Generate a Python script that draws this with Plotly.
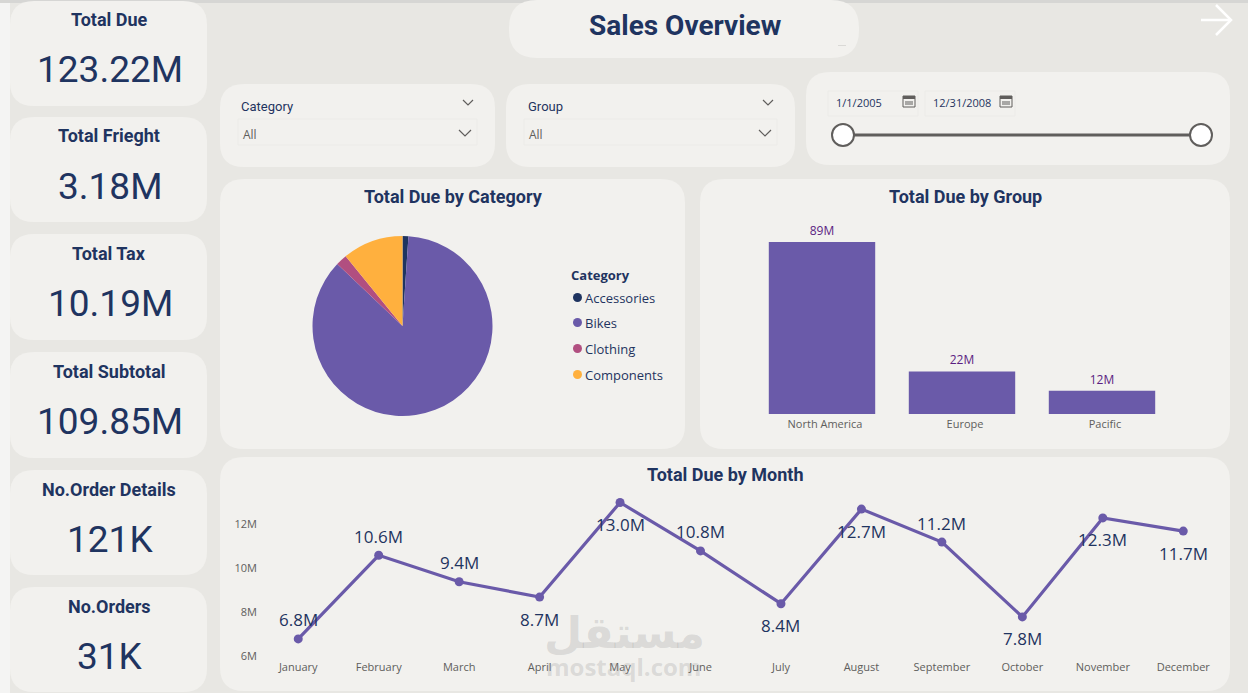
import plotly.graph_objects as go

# ---- data ----
kpi_names = ["Total Due", "Total Frieght", "Total Tax", "Total Subtotal", "No.Order Details", "No.Orders"]
kpi_values = ["123.22M", "3.18M", "10.19M", "109.85M", "121K", "31K"]

categories = ["Accessories", "Bikes", "Clothing", "Components"]
category_due = [1.3, 106.0, 2.5, 13.4]

groups = ["North America", "Europe", "Pacific"]
group_due = [89, 22, 12]

months = ["January", "February", "March", "April", "May", "June", "July",
          "August", "September", "October", "November", "December"]
month_due = [6.8, 10.6, 9.4, 8.7, 13.0, 10.8, 8.4, 12.7, 11.2, 7.8, 12.3, 11.7]
month_label_above = [True, True, True, False, False, True, False, False, True, False, False, False]

# ---- page geometry and palette ----
W, H = 1248, 693
PAGE = "#E8E7E3"
CARD = "#F2F1EE"
NAVY = "#1F3460"
PURPLE = "#6A5AA9"
PINK = "#B14F80"
ORANGE = "#FFB03E"
GREY = "#605E5C"
pie_colors = [NAVY, PURPLE, PINK, ORANGE]
HEAD = "Roboto"
BODY = "Open Sans"


def px(x):
    return x / W


def py(y):
    return 1 - y / H


def dom_x(a, b):
    return [px(a), px(b)]


def dom_y(top, bottom):
    return [py(bottom), py(top)]


def card(x0, y0, x1, y1, r=24, fill=CARD):
    p = (f"M{px(x0 + r)},{py(y0)} L{px(x1 - r)},{py(y0)} "
         f"Q{px(x1)},{py(y0)} {px(x1)},{py(y0 + r)} L{px(x1)},{py(y1 - r)} "
         f"Q{px(x1)},{py(y1)} {px(x1 - r)},{py(y1)} L{px(x0 + r)},{py(y1)} "
         f"Q{px(x0)},{py(y1)} {px(x0)},{py(y1 - r)} L{px(x0)},{py(y0 + r)} "
         f"Q{px(x0)},{py(y0)} {px(x0 + r)},{py(y0)} Z")
    return dict(type="path", xref="paper", yref="paper", path=p, fillcolor=fill,
                line=dict(width=0), layer="below")


def rect(x0, y0, x1, y1, fill="rgba(0,0,0,0)", line=None, width=1):
    return dict(type="rect", xref="paper", yref="paper", x0=px(x0), x1=px(x1), y0=py(y1), y1=py(y0),
                fillcolor=fill, line=dict(color=line or fill, width=width if line else 0), layer="below")


def polyline(points, color, width=1.2):
    p = "M" + " L".join(f"{px(x)},{py(y)}" for x, y in points)
    return dict(type="path", xref="paper", yref="paper", path=p, line=dict(color=color, width=width))


def circle(cx, cy, r, fill, line=None, width=2):
    return dict(type="circle", xref="paper", yref="paper", x0=px(cx - r), x1=px(cx + r),
                y0=py(cy + r), y1=py(cy - r), fillcolor=fill,
                line=dict(color=line or fill, width=width if line else 0))


def label(x, y, text, size, color=NAVY, family=HEAD, bold=False, anchor="center"):
    t = f"<b>{text}</b>" if bold else text
    return dict(xref="paper", yref="paper", x=px(x), y=py(y), text=t, showarrow=False, borderpad=0,
                borderwidth=0, xanchor=anchor, yanchor="middle",
                font=dict(size=size, color=color, family=family))


shapes, notes = [], []

# window edges
shapes.append(rect(0, 0, 10, H, fill="#F4F4F3"))
shapes.append(rect(0, 0, W, 3, fill="#D6D6D4"))

# KPI column
kpi_tops = [1, 117, 234, 352, 470, 587]
kpi_bottoms = [106, 222, 340, 458, 575, 692]
for name, value, top, bottom in zip(kpi_names, kpi_values, kpi_tops, kpi_bottoms):
    shapes.append(card(10, top, 207, bottom))
    notes.append(label(109, top + 19, name, 18, bold=True))
    notes.append(label(110, top + 69, value, 37))

# header
shapes.append(card(509, 0, 859, 58, r=28))
notes.append(label(685, 26, "Sales Overview", 28, bold=True))
shapes.append(rect(838, 45, 846, 46, fill="#DAD9D6"))
shapes.append(polyline([(1201, 20), (1230, 20)], "#FFFFFF", 2.5))
shapes.append(polyline([(1216, 5), (1231, 20), (1216, 35)], "#FFFFFF", 2.5))

# dropdown slicers
for x0, x1, title, bx0, bx1, head_x, chev_x in [(220, 495, "Category", 238, 477, 241, 468),
                                                (506, 795, "Group", 524, 777, 528, 768)]:
    shapes.append(card(x0, 84, x1, 167))
    shapes.append(rect(bx0, 119, bx1, 145, line="#ECEBE8"))
    notes.append(label(head_x, 106, title, 13, family=HEAD, anchor="left"))
    notes.append(label(bx0 + 5, 134, "All", 12, color=GREY, family=BODY, anchor="left"))
    shapes.append(polyline([(chev_x - 5, 100), (chev_x, 105), (chev_x + 5, 100)], GREY))
    shapes.append(polyline([(chev_x - 9, 130), (chev_x - 3, 136), (chev_x + 3, 130)], GREY))

# date range slicer
shapes.append(card(806, 72, 1230, 165))
for x0, x1, text in [(828, 918, "1/1/2005"), (925, 1015, "12/31/2008")]:
    shapes.append(rect(x0, 91, x1, 116, line="#ECEBE8"))
    notes.append(label(x0 + 8, 102, text, 11, family=BODY, anchor="left"))
    ix = x1 - 15
    shapes.append(rect(ix, 96, ix + 12, 107, line=GREY))
    shapes.append(rect(ix, 96, ix + 12, 99, fill=GREY))
    shapes.append(rect(ix + 2, 101, ix + 10, 105, fill="#A8A7A5"))
shapes.append(polyline([(843, 135), (1201, 135)], GREY, 3))
shapes.append(circle(843, 135, 11, "#FFFFFF", GREY))
shapes.append(circle(1201, 135, 11, "#FFFFFF", GREY))

# chart panels
shapes.append(card(220, 179, 685, 449))
shapes.append(card(700, 179, 1230, 449))
shapes.append(card(220, 457, 1230, 691))
notes.append(label(453, 197, "Total Due by Category", 18, bold=True))
notes.append(label(965, 197, "Total Due by Group", 18, bold=True))
notes.append(label(725, 475, "Total Due by Month", 18, bold=True))

# pie legend
notes.append(label(571, 275, "Category", 13, family=BODY, bold=True, anchor="left"))
for name, color, y in zip(categories, pie_colors, [298, 323, 349, 375]):
    shapes.append(circle(577.5, y - 0.5, 4.5, color))
    notes.append(label(585, y, name, 13, family=BODY, anchor="left"))

fig = go.Figure()

fig.add_trace(go.Pie(
    labels=categories, values=category_due, sort=False, direction="clockwise", rotation=0,
    marker=dict(colors=pie_colors, line=dict(width=0)), textinfo="none", showlegend=False,
    domain=dict(x=dom_x(312.5, 492.5), y=dom_y(236, 416)),
))

fig.add_trace(go.Bar(
    x=groups, y=group_due, xaxis="x", yaxis="y", marker=dict(color=PURPLE, line=dict(width=0)),
    text=[f"{v}M" for v in group_due], textposition="outside", cliponaxis=False,
    textfont=dict(size=12, color="#5B1E82", family=BODY), showlegend=False,
))

fig.add_trace(go.Scatter(
    x=months, y=month_due, xaxis="x2", yaxis="y2", mode="lines+markers",
    line=dict(color=PURPLE, width=3.2), marker=dict(color=PURPLE, size=9), showlegend=False,
))

# month data labels sit just above or below their points
for month, value, above in zip(months, month_due, month_label_above):
    notes.append(dict(xref="x2", yref="y2", x=month, y=value, text=f"{value:.1f}M", showarrow=False,
                      yshift=19 if above else -22, font=dict(size=17, color=NAVY, family=BODY)))

# site mark over the month chart
notes.append(label(624, 632, "مستقل", 44, color="rgba(150,150,150,0.27)", family="DejaVu Sans", bold=True))
notes.append(label(623, 666, "mostaql.com", 24, color="rgba(150,150,150,0.27)", family=BODY, bold=True))

LINE_PX_PER_M = 22.0
LINE_Y6 = 656.5
LINE_TOP, LINE_BOTTOM = 490, 659

fig.update_layout(
    width=W, height=H, margin=dict(l=0, r=0, t=0, b=0, pad=0, autoexpand=False), autosize=False,
    paper_bgcolor=PAGE, plot_bgcolor="rgba(0,0,0,0)", bargap=0.24,
    font=dict(family=BODY, color=GREY, size=11),
    shapes=shapes, annotations=notes,
    xaxis=dict(domain=dom_x(752, 1172), showgrid=False, zeroline=False, showline=False, ticks="",
               tickfont=dict(size=11, color=GREY, family=BODY), fixedrange=True,
               ticklabelshift=3, ticklabelstandoff=2),
    yaxis=dict(domain=dom_y(242, 414), range=[0, 89], visible=False, fixedrange=True),
    xaxis2=dict(domain=dom_x(258, 1223.5), anchor="y2", range=[-0.5, 11.5], showgrid=False,
                zeroline=False, showline=False,
                ticks="", tickfont=dict(size=11, color=GREY, family=BODY), fixedrange=True),
    yaxis2=dict(domain=dom_y(LINE_TOP, LINE_BOTTOM), anchor="x2", showgrid=False, zeroline=False,
                range=[6 - (LINE_BOTTOM - LINE_Y6) / LINE_PX_PER_M, 6 + (LINE_Y6 - LINE_TOP) / LINE_PX_PER_M],
                tickvals=[6, 8, 10, 12], ticktext=["6M", "8M", "10M", "12M"],
                tickfont=dict(size=11, color=GREY, family=BODY), fixedrange=True),
)

fig.write_html("out.html", config=dict(displayModeBar=False))
